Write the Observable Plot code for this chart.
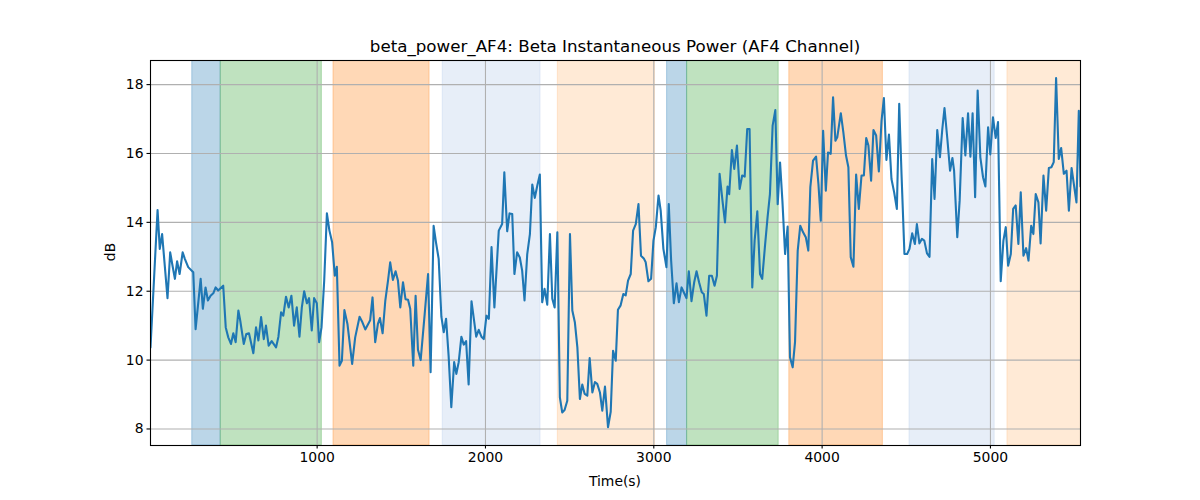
<!DOCTYPE html>
<html><head><meta charset="utf-8">
<script src="https://cdn.jsdelivr.net/npm/d3@7"></script>
<script src="https://cdn.jsdelivr.net/npm/@observablehq/plot@0.6"></script>
<style>body{margin:0;background:#fff}</style>
</head><body><div id="chart"></div>
<script>
const titleText = "beta_power_AF4: Beta Instantaneous Power (AF4 Channel)";
const xLabelText = "Time(s)";
const yLabelText = "dB";
const xTicks = [1000, 2000, 3000, 4000, 5000];
const yTicks = [8, 10, 12, 14, 16, 18];

const times = [
  10, 52, 65, 79, 111, 127, 139, 155, 168, 183, 201, 214, 234, 264, 278, 308, 321, 337, 351, 367, 383, 397, 412, 442, 457, 472, 488, 502, 516, 532, 543, 564, 579, 595, 621, 637, 651, 667, 683,
  696, 712, 730, 756, 770, 786, 799, 815, 831, 847, 863, 879, 895, 909, 923, 939, 952, 968, 982, 998, 1012, 1026, 1042, 1058, 1073, 1089, 1105, 1117, 1133, 1147, 1162, 1180, 1208, 1226, 1252, 1266, 1286, 1315, 1329, 1345,
  1361, 1373, 1389, 1405, 1421, 1434, 1450, 1466, 1480, 1494, 1510, 1525, 1540, 1553, 1571, 1585, 1599, 1615, 1639, 1659, 1674, 1692, 1706, 1722, 1738, 1752, 1766, 1781, 1797, 1814, 1827, 1841, 1857, 1871, 1885, 1900, 1917, 1945, 1960, 1976, 1990, 2006, 2020, 2036,
  2053, 2079, 2099, 2112, 2129, 2143, 2159, 2172, 2188, 2204, 2218, 2232, 2248, 2264, 2278, 2293, 2308, 2323, 2337, 2351, 2367, 2383, 2397, 2411, 2427, 2442, 2456, 2470, 2486, 2502, 2516, 2531, 2546, 2561, 2575, 2589, 2605, 2619, 2635, 2650, 2664, 2680, 2694, 2710, 2728, 2744,
  2758, 2774, 2787, 2803, 2819, 2833, 2847, 2863, 2877, 2893, 2909, 2924, 2942, 2952, 2968, 2984, 2998, 3012, 3028, 3041, 3057, 3075, 3089, 3103, 3119, 3135, 3149, 3165, 3178, 3194, 3208, 3224, 3240, 3254, 3269, 3285, 3297, 3313, 3329, 3345, 3361, 3375, 3391, 3408,
  3423, 3438, 3448, 3464, 3478, 3494, 3510, 3525, 3540, 3555, 3569, 3585, 3599, 3615, 3631, 3644, 3660, 3676, 3690, 3706, 3722, 3736, 3750, 3764, 3780, 3795, 3809, 3825, 3839, 3855, 3870, 3887, 3903, 3918, 3930, 3946, 3964, 3978, 3992, 4006, 4022, 4035, 4051, 4065, 4079,
  4090, 4111, 4126, 4142, 4156, 4170, 4186, 4202, 4218, 4234, 4248, 4262, 4275, 4291, 4305, 4321, 4337, 4353, 4367, 4382, 4397, 4412, 4428, 4444, 4458, 4472, 4489, 4505, 4519, 4535, 4551, 4563, 4578, 4593, 4607, 4623, 4638, 4654, 4668, 4684, 4700, 4714, 4727, 4744, 4760, 4774,
  4784, 4803, 4817, 4835, 4851, 4867, 4881, 4894, 4909, 4924, 4940, 4956, 4970, 4986, 4999, 5015, 5031, 5045, 5061, 5077, 5091, 5105, 5121, 5135, 5150, 5166, 5180, 5196, 5212, 5226, 5242, 5255, 5269, 5285, 5298, 5315, 5331, 5347, 5362, 5376, 5390, 5406, 5420, 5436, 5452, 5466, 5482, 5498, 5511, 5525, 5535
];
const values = [
  10.37, 14.36, 13.23, 13.66, 11.8, 13.13, 12.79, 12.36, 12.87, 12.5, 13.13, 12.94, 12.7, 12.55, 10.9, 12.36, 11.49, 12.11, 11.73, 11.87, 11.94, 12.11, 12.02, 12.16, 10.95, 10.66, 10.47, 10.78, 10.52, 11.44, 11.15, 10.47, 10.76, 10.78, 10.2, 10.95, 10.57, 11.25, 10.61,
  11.0, 10.42, 10.55, 10.37, 10.68, 11.39, 11.29, 11.84, 11.53, 11.87, 11.0, 11.53, 10.68, 11.53, 12.0, 11.65, 11.8, 10.86, 11.8, 11.65, 10.52, 10.95, 12.31, 14.26, 13.76, 13.42, 12.45, 12.71, 9.84, 9.98, 11.45, 11.05, 9.89, 10.66, 11.26, 11.13, 10.89, 11.16, 11.82, 10.52,
  11.05, 11.22, 10.78, 11.73, 12.31, 12.84, 12.33, 12.58, 12.31, 11.53, 12.26, 11.77, 11.75, 11.49, 9.84, 11.87, 10.3, 10.0, 11.34, 12.5, 9.65, 13.9, 13.42, 12.94, 11.26, 10.81, 11.2, 10.13, 8.63, 9.94, 9.6, 9.94, 10.68, 10.45, 10.55, 9.29, 11.71, 10.68, 10.88, 10.68, 10.61, 11.29, 11.2, 13.28,
  11.53, 13.76, 13.95, 15.45, 13.74, 14.26, 14.24, 12.5, 13.13, 12.98, 12.6, 11.73, 13.07, 13.66, 15.1, 14.71, 15.07, 15.39, 11.68, 12.07, 11.61, 13.66, 11.78, 11.53, 13.71, 8.92, 8.48, 8.55, 8.82, 13.66, 11.44, 11.1, 10.37, 8.87, 9.29, 9.02, 8.97, 10.06, 9.06, 9.36, 9.31, 9.06, 8.53, 9.23, 8.05, 8.5,
  10.27, 9.98, 11.46, 11.59, 11.92, 11.88, 12.31, 12.5, 13.76, 13.95, 14.53, 13.03, 12.94, 12.84, 12.29, 12.36, 13.47, 13.86, 14.78, 14.34, 13.23, 12.7, 14.53, 12.89, 11.65, 12.23, 11.68, 12.11, 11.97, 11.8, 12.58, 11.71, 12.26, 12.58, 12.26, 11.97, 11.92, 11.29, 12.45, 12.45, 12.16, 12.45, 15.41, 14.63,
  14.0, 15.04, 14.82, 16.1, 15.55, 16.23, 14.97, 15.36, 15.33, 16.71, 16.71, 12.11, 13.47, 14.32, 12.5, 12.36, 13.28, 14.15, 14.82, 16.81, 17.26, 14.53, 15.74, 14.63, 13.08, 13.88, 10.08, 9.79, 10.52, 13.18, 13.9, 13.71, 13.57, 13.18, 15.02, 15.79, 15.91, 15.12, 14.05, 16.66, 14.92, 16.03, 15.99, 17.63, 16.37,
  16.47, 17.17, 16.62, 15.94, 15.6, 12.99, 12.71, 15.39, 14.39, 15.36, 15.36, 16.45, 16.23, 15.21, 16.68, 16.52, 15.48, 16.95, 17.61, 15.81, 16.55, 15.26, 14.87, 14.39, 17.44, 15.36, 13.08, 13.08, 13.23, 13.68, 13.37, 13.95, 13.39, 13.52, 13.47, 13.1, 13.0, 15.84, 14.68, 16.68, 15.89, 16.71, 17.32, 16.42, 15.5, 15.87,
  15.5, 13.57, 14.63, 17.03, 15.94, 17.17, 15.91, 17.17, 14.73, 17.83, 15.89, 15.31, 15.04, 16.76, 15.97, 17.05, 16.45, 16.91, 12.29, 13.47, 13.86, 12.74, 13.08, 14.39, 14.49, 13.37, 14.87, 13.03, 13.25, 12.89, 13.9, 13.66, 14.82, 14.58, 13.39, 15.36, 14.34, 15.58, 15.6, 15.75, 18.19, 15.84, 16.16, 15.41, 15.5, 14.34, 15.58, 15.02, 14.58, 17.24, 15.04
];

const spanStarts = [258, 427, 1097, 1746, 2430, 3079, 3198, 3805, 4519, 5101];
const spanEnds   = [427, 1028, 1668, 2327, 3007, 3198, 3742, 4361, 5025, 5600];
const spanColors = ["#1f77b4", "#2ca02c", "#ff7f0e", "#aec7e8", "#ffbb78", "#1f77b4", "#2ca02c", "#ff7f0e", "#aec7e8", "#ffbb78"];

const series = times.map((t, i) => ({t, v: values[i]}));
const spans = spanStarts.map((s, i) => ({x1: s, x2: spanEnds[i], color: spanColors[i]}));

const font = "DejaVu Sans, sans-serif";
const chart = Plot.plot({
  width: 1200, height: 500,
  marginLeft: 150, marginRight: 120, marginTop: 60, marginBottom: 55,
  style: {fontFamily: font, fontSize: "13.9px", color: "black", background: "white"},
  x: {domain: [10, 5535], label: null},
  y: {domain: [7.52, 18.7], label: null},
  color: {type: "identity"},
  marks: [
    Plot.rect(spans, {x1: "x1", x2: "x2", fill: "color", fillOpacity: 0.3, stroke: "color", strokeOpacity: 0.3, strokeWidth: 1, clip: true}),
    Plot.gridX(xTicks, {stroke: "#b0b0b0", strokeOpacity: 1, strokeWidth: 1.1}),
    Plot.gridY(yTicks, {stroke: "#b0b0b0", strokeOpacity: 1, strokeWidth: 1.1}),
    Plot.line(series, {x: "t", y: "v", stroke: "#1f77b4", strokeWidth: 2.1, clip: true}),
    Plot.axisX(xTicks, {tickSize: 3.5, tickPadding: 3.5, strokeWidth: 1.1, fontSize: 13.9, tickFormat: d => String(d)}),
    Plot.axisY(yTicks, {tickSize: 3.5, tickPadding: 3.5, strokeWidth: 1.1, fontSize: 13.9, tickFormat: d => String(d)}),
    Plot.frame({stroke: "black", strokeWidth: 1.1})
  ]
});

const svg = d3.select(chart);
svg.append("text").attr("x", 615).attr("y", 52).attr("text-anchor", "middle")
  .attr("font-family", font).attr("font-size", "16.7px").attr("fill", "black").text(titleText);
svg.append("text").attr("x", 615).attr("y", 486).attr("text-anchor", "middle")
  .attr("font-family", font).attr("font-size", "13.9px").attr("fill", "black").text(xLabelText);
svg.append("text").attr("transform", "translate(115,252) rotate(-90)").attr("text-anchor", "middle")
  .attr("font-family", font).attr("font-size", "13.9px").attr("fill", "black").text(yLabelText);

document.getElementById("chart").appendChild(chart);
</script>
</body></html>
